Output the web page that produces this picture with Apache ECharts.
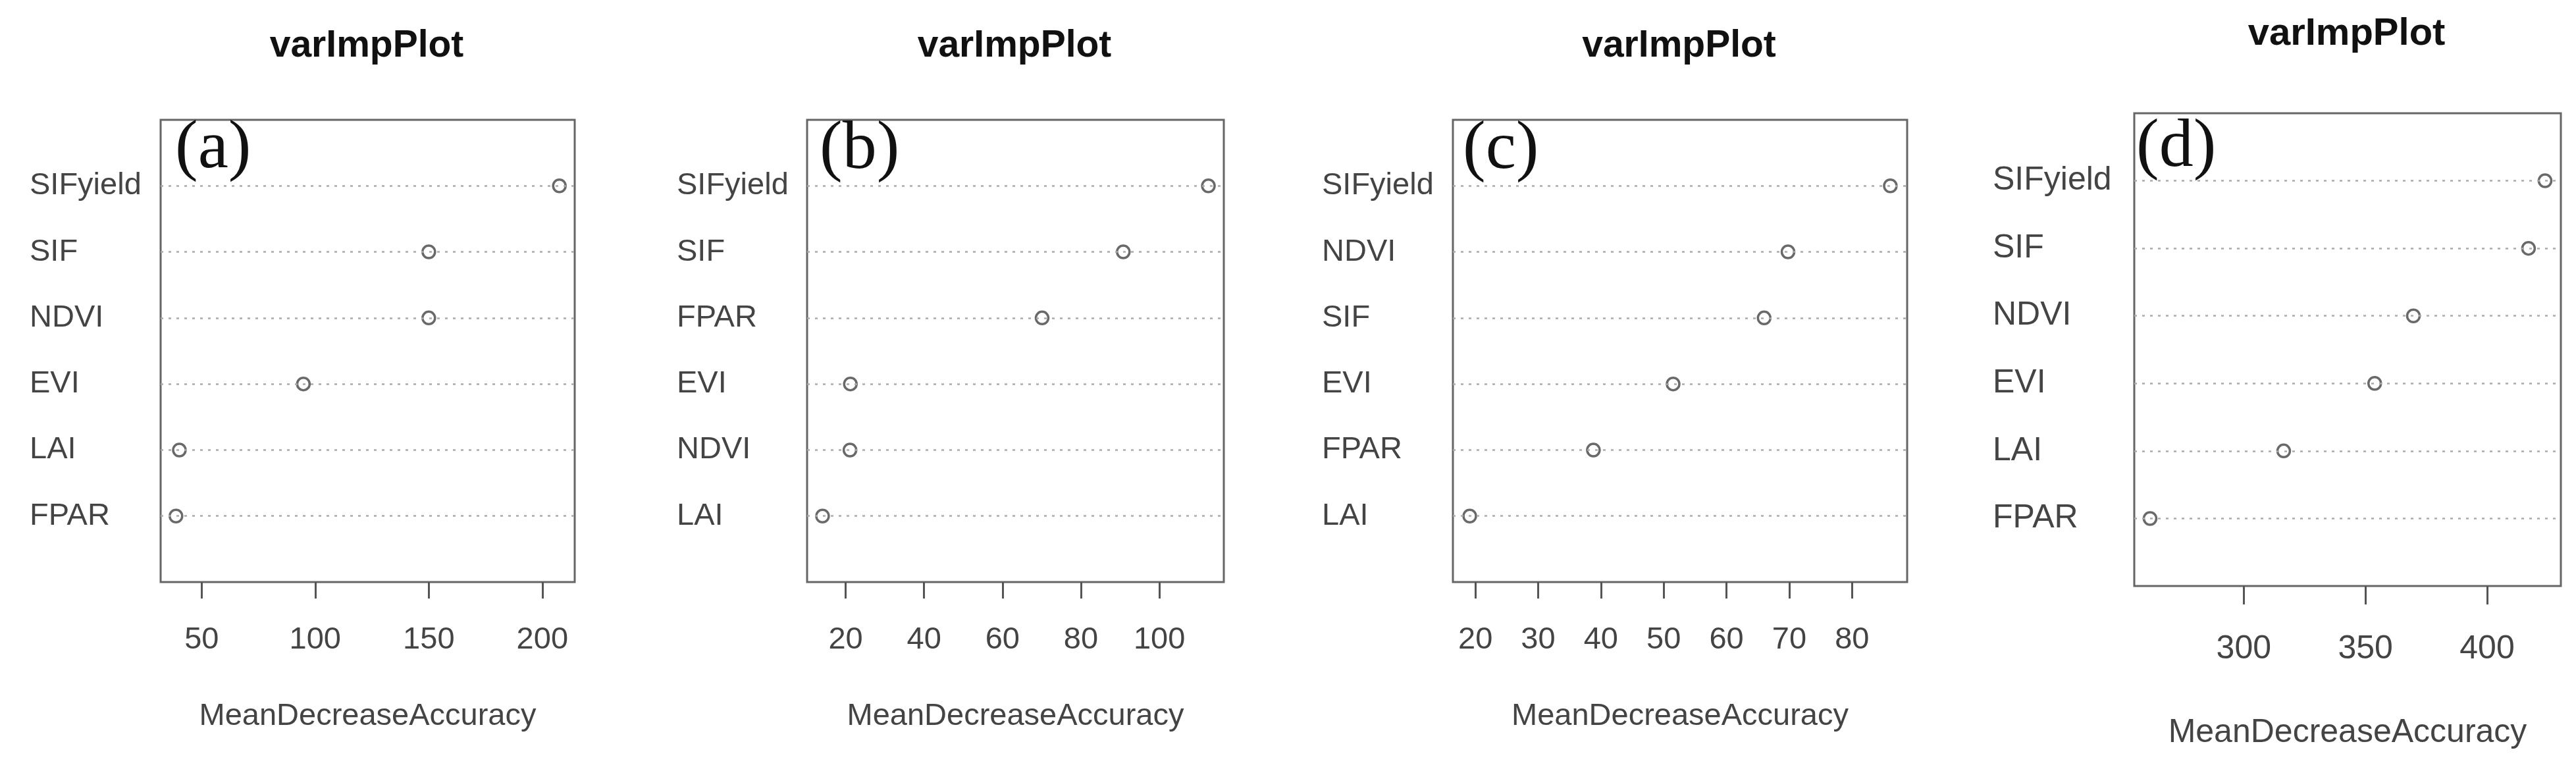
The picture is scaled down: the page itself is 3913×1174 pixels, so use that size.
<!DOCTYPE html>
<html><head><meta charset="utf-8">
<script src="https://cdn.jsdelivr.net/npm/echarts@6/dist/echarts.min.js"></script>
<style>html,body{margin:0;padding:0;background:#fff}#c{width:3913px;height:1174px}</style>
</head><body><div id="c"></div>
<script>
// ---- data ----
const chartTitle = 'varImpPlot';
const xAxisTitle = 'MeanDecreaseAccuracy';
const panelLabels = ['(a)', '(b)', '(c)', '(d)'];

const categoriesA = ['SIFyield', 'SIF', 'NDVI', 'EVI', 'LAI', 'FPAR'];
const valuesA = [207.5, 150, 150, 94.8, 40.2, 38.7];
const ticksA = [50, 100, 150, 200];

const categoriesB = ['SIFyield', 'SIF', 'FPAR', 'EVI', 'NDVI', 'LAI'];
const valuesB = [112.5, 90.8, 70.1, 21.2, 21.1, 14.1];
const ticksB = [20, 40, 60, 80, 100];

const categoriesC = ['SIFyield', 'NDVI', 'SIF', 'EVI', 'FPAR', 'LAI'];
const valuesC = [86.1, 69.8, 66, 51.5, 38.8, 19.1];
const ticksC = [20, 30, 40, 50, 60, 70, 80];

const categoriesD = ['SIFyield', 'SIF', 'NDVI', 'EVI', 'LAI', 'FPAR'];
const valuesD = [423.8, 417, 369.7, 353.8, 316.4, 261.5];
const ticksD = [300, 350, 400];

// ---- layout (positions / styles) ----
const layouts = [
  {left: 244, right: 873, top: 182, bottom: 884, labelX: 45, fs: 47, titleFs: 57, titleY: 70, tickLabelY: 971, nameY: 1087, tickLen: 25, tagX: 271, tagY: 190, tagFs: 104},
  {left: 1226, right: 1859, top: 182, bottom: 884, labelX: 1028, fs: 47, titleFs: 57, titleY: 70, tickLabelY: 971, nameY: 1087, tickLen: 25, tagX: 1250, tagY: 191, tagFs: 104},
  {left: 2207, right: 2897, top: 182, bottom: 884, labelX: 2008, fs: 47, titleFs: 57, titleY: 70, tickLabelY: 971, nameY: 1087, tickLen: 25, tagX: 2227, tagY: 191, tagFs: 104},
  {left: 3242, right: 3890, top: 172, bottom: 890, labelX: 3027, fs: 50, titleFs: 58, titleY: 51, tickLabelY: 986, nameY: 1113, tickLen: 28, tagX: 3250, tagY: 188, tagFs: 104}
];

const panels = [
  {cats: categoriesA, vals: valuesA, ticks: ticksA},
  {cats: categoriesB, vals: valuesB, ticks: ticksB},
  {cats: categoriesC, vals: valuesC, ticks: ticksC},
  {cats: categoriesD, vals: valuesD, ticks: ticksD}
];

const SANS = "'Liberation Sans', Arial, sans-serif";
const SERIF = "'Liberation Serif', 'Times New Roman', serif";
const TXT = '#444';

const option = {
  animation: false,
  backgroundColor: '#fff',
  title: [],
  grid: [],
  xAxis: [],
  yAxis: [],
  series: []
};

panels.forEach((p, k) => {
  const L = layouts[k];
  const n = p.cats.length;
  const lo = Math.min(...p.vals), hi = Math.max(...p.vals);
  const pad = (hi - lo) * 0.04;
  const cx = (L.left + L.right) / 2 - 1.5;

  option.title.push({
    text: chartTitle, left: cx, top: L.titleY - 0.488 * L.titleFs, padding: 0,
    textAlign: 'center',
    textStyle: {fontFamily: SANS, fontWeight: 'bold', fontSize: L.titleFs, lineHeight: L.titleFs, color: '#111'}
  });
  option.title.push({
    text: panelLabels[k], left: L.tagX - 5, top: L.tagY - 0.147 * L.tagFs, padding: 0,
    textStyle: {fontFamily: SERIF, fontWeight: 'normal', fontSize: L.tagFs, lineHeight: L.tagFs, color: '#111'}
  });

  option.grid.push({
    left: L.left, top: L.top, width: L.right - L.left, height: L.bottom - L.top,
    show: true, borderColor: '#666', borderWidth: 3, backgroundColor: 'transparent',
    containLabel: false, outerBoundsMode: 'none'
  });

  option.xAxis.push({
    type: 'value', gridIndex: k, min: lo - pad, max: hi + pad,
    axisLine: {show: false},
    splitLine: {show: false},
    axisTick: {show: true, inside: false, length: L.tickLen, customValues: p.ticks, lineStyle: {color: '#555', width: 3}},
    axisLabel: {
      customValues: p.ticks, margin: L.tickLabelY - L.bottom - 0.488 * L.fs,
      fontFamily: SANS, fontSize: L.fs, lineHeight: L.fs, color: TXT,
      showMinLabel: true, showMaxLabel: true
    },
    name: xAxisTitle, nameLocation: 'middle', nameGap: L.nameY - L.bottom - 0.488 * L.fs,
    nameTextStyle: {fontFamily: SANS, fontSize: L.fs, lineHeight: L.fs, color: TXT}
  });

  const rowVals = p.cats.map((c, i) => n - i);
  option.yAxis.push({
    type: 'value', gridIndex: k, min: 0, max: n + 1,
    axisLine: {show: false}, axisTick: {show: false}, splitLine: {show: false},
    axisLabel: {
      customValues: rowVals, align: 'left', margin: L.left - L.labelX,
      fontFamily: SANS, fontSize: L.fs, color: TXT,
      formatter: v => p.cats[n - Math.round(v)] || ''
    }
  });

  option.series.push({
    type: 'scatter', xAxisIndex: k, yAxisIndex: k,
    data: p.vals.map((v, i) => [v, n - i]),
    symbol: 'circle', symbolSize: 19,
    itemStyle: {color: 'rgba(0,0,0,0)', borderColor: '#444', borderWidth: 3.5},
    z: 3,
    markLine: {
      silent: true, symbol: ['none', 'none'], label: {show: false},
      lineStyle: {color: '#aaa', width: 2.5, type: [4, 8]},
      emphasis: {disabled: true},
      data: rowVals.map(y => ({yAxis: y}))
    }
  });
});

const chart = echarts.init(document.getElementById('c'), null, {renderer: 'canvas'});
chart.setOption(option);
</script>
</body></html>
